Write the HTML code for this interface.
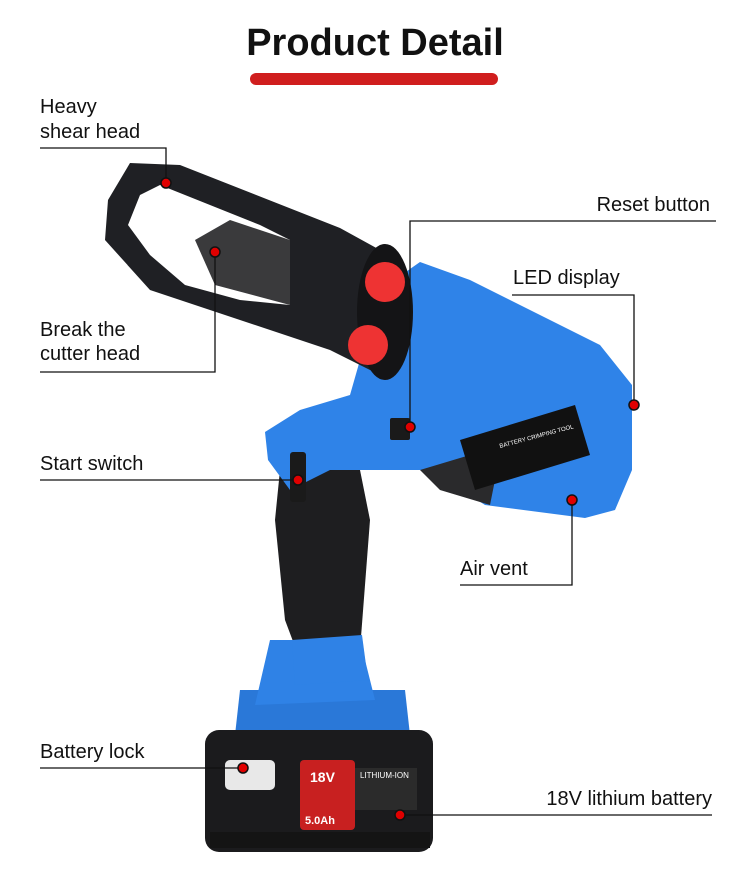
<!DOCTYPE html>
<html><head><meta charset="utf-8"><style>
html,body{margin:0;padding:0;background:#fff;width:750px;height:875px;overflow:hidden}
svg{display:block}
text{font-family:"Liberation Sans","DejaVu Sans",sans-serif;fill:#111}
</style></head><body>
<svg width="750" height="875" viewBox="0 0 750 875" xmlns="http://www.w3.org/2000/svg">
<text x="375" y="55" text-anchor="middle" font-size="38" font-weight="bold">Product Detail</text>
<rect x="250" y="73" width="248" height="12" rx="6" fill="#d01e1e"/>

<!-- battery -->
<path d="M240 690 L405 690 L410 735 L235 735 Z" fill="#2a78d8"/>
<path d="M270 640 L360 640 L375 700 L255 705 Z" fill="#2f82e6"/>
<rect x="205" y="730" width="228" height="122" rx="14" fill="#1b1b1d"/>
<rect x="225" y="760" width="50" height="30" rx="5" fill="#e8e8e8"/>
<rect x="300" y="760" width="55" height="70" rx="4" fill="#c82020"/>
<text x="310" y="782" font-size="14" font-weight="bold" style="fill:#fff">18V</text>
<text x="305" y="824" font-size="11" font-weight="bold" style="fill:#fff">5.0Ah</text>
<rect x="355" y="768" width="62" height="42" fill="#2b2b2b"/>
<text x="360" y="778" font-size="8" style="fill:#fff">LITHIUM-ION</text>
<rect x="210" y="832" width="220" height="16" fill="#141414"/>

<!-- handle -->
<path d="M280 470 L360 470 L370 520 L360 650 L300 660 L285 620 L275 520 Z" fill="#1e1e20"/>
<path d="M292 640 L362 635 L368 680 L295 685 Z" fill="#2f82e6"/>

<!-- body -->
<path d="M380 290 L420 262 L470 280 L600 345 L632 385 L632 470 L615 510 L585 518 L485 505 L430 470 L370 470 L330 470 L290 490 L268 460 L265 432 L300 410 L350 395 Z" fill="#2f83e8"/>
<path d="M420 470 L470 455 L495 480 L490 505 L440 490 Z" fill="#2a2a2c"/>
<path d="M460 440 L575 405 L590 455 L475 490 Z" fill="#111"/>
<text x="500" y="448" font-size="6" style="fill:#fff" transform="rotate(-15 500 448)">BATTERY CRIMPING TOOL</text>
<rect x="390" y="418" width="20" height="22" rx="2" fill="#1a1a1a"/>
<rect x="290" y="452" width="16" height="50" rx="3" fill="#1a1a1a"/>

<!-- head -->
<path d="M130 163 L180 165 L340 228 L380 250 L405 330 L380 375 L330 350 L150 290 L105 240 L108 200 Z" fill="#1f2024"/>
<path d="M140 195 L160 185 L260 225 L290 240 L290 305 L240 300 L185 285 L150 255 L128 225 Z" fill="#fff"/>
<path d="M195 240 L230 220 L290 240 L290 305 L215 285 Z" fill="#3a3a3c"/>
<ellipse cx="385" cy="312" rx="28" ry="68" fill="#141416"/>
<circle cx="385" cy="282" r="20" fill="#e33"/>
<circle cx="368" cy="345" r="20" fill="#e33"/>

<!-- leader lines -->
<g stroke="#111" stroke-width="1.3" fill="none">
<polyline points="40,148 166,148 166,183"/>
<polyline points="410,427 410,221 716,221"/>
<polyline points="512,295 634,295 634,405"/>
<polyline points="40,372 215,372 215,252"/>
<polyline points="40,480 298,480"/>
<polyline points="460,585 572,585 572,500"/>
<polyline points="40,768 243,768"/>
<polyline points="400,815 712,815"/>
</g>
<g fill="#e00000" stroke="#111" stroke-width="1.5">
<circle cx="166" cy="183" r="5"/><circle cx="410" cy="427" r="5"/>
<circle cx="634" cy="405" r="5"/><circle cx="215" cy="252" r="5"/>
<circle cx="298" cy="480" r="5"/><circle cx="572" cy="500" r="5"/>
<circle cx="243" cy="768" r="5"/><circle cx="400" cy="815" r="5"/>
</g>

<g font-size="20">
<text x="40" y="113">Heavy</text>
<text x="40" y="138">shear head</text>
<text x="710" y="211" text-anchor="end">Reset button</text>
<text x="513" y="284">LED display</text>
<text x="40" y="336">Break the</text>
<text x="40" y="360">cutter head</text>
<text x="40" y="470">Start switch</text>
<text x="460" y="575">Air vent</text>
<text x="40" y="758">Battery lock</text>
<text x="712" y="805" text-anchor="end">18V lithium battery</text>
</g>
</svg>
</body></html>
